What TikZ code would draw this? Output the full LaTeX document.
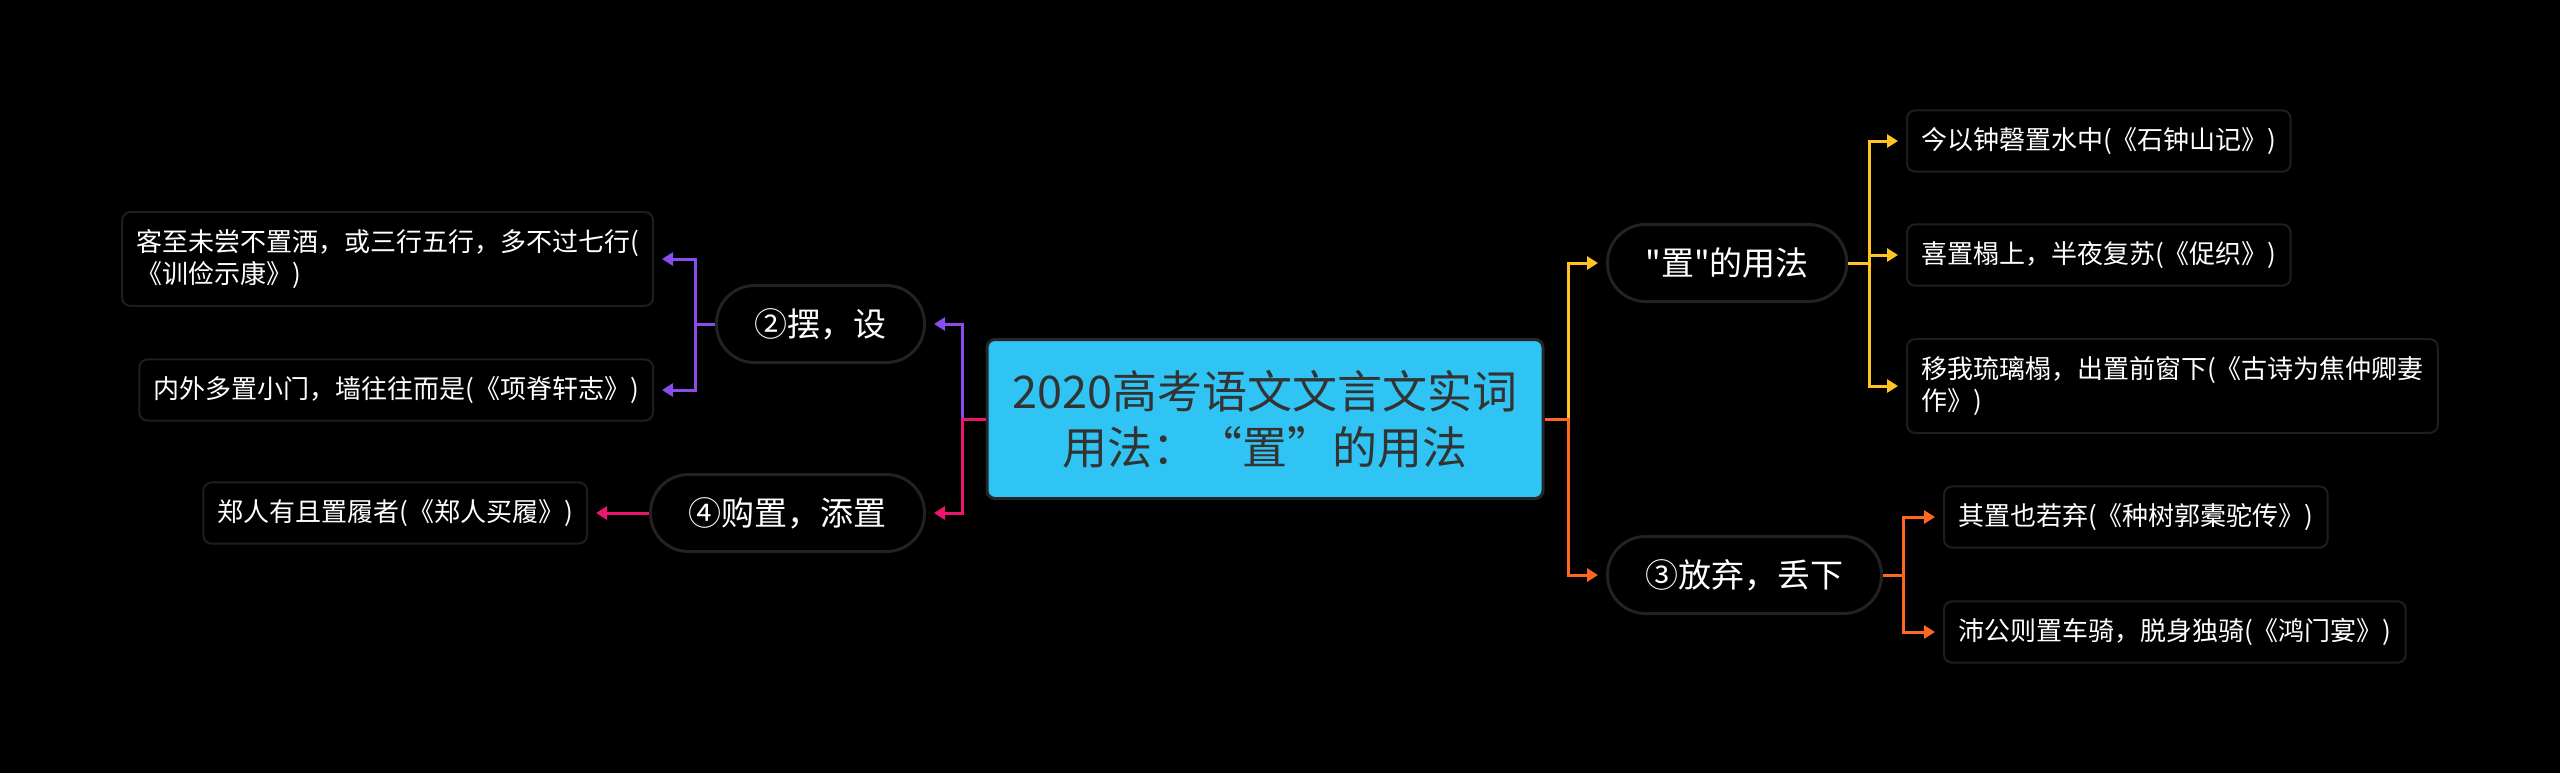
\documentclass[tikz,border=0pt]{standalone}
\usepackage{fontspec}
\setmainfont{Noto Sans CJK SC}
\newfontfamily\plainquote{Noto Sans CJK SC}
\usepackage{tikz}
\usetikzlibrary{arrows.meta, positioning}
\usepackage{xcolor}
\definecolor{rootblue}{RGB}{48, 196, 244}
\definecolor{roottext}{RGB}{51, 51, 51}
\definecolor{yelline}{RGB}{255, 196, 34}
\definecolor{orgline}{RGB}{255, 102, 34}
\definecolor{purline}{RGB}{138, 76, 236}
\definecolor{pinkline}{RGB}{236, 22, 110}
\definecolor{pillgray}{RGB}{34, 34, 34}
\definecolor{leafgray}{RGB}{30, 30, 30}

\begin{document}
\begin{tikzpicture}[x=0.5pt, y=-0.5pt,
    root/.style={rectangle, rounded corners=4pt, minimum width=278pt, minimum height=79.5pt,
                 align=center, font=\fontsize{22.5pt}{28pt}\selectfont, text=roottext,
                 draw=black!85!white, line width=1.5pt, fill=rootblue},
    topic/.style={rectangle, rounded corners=19pt, minimum height=38.5pt, inner xsep=19pt,
                  font=\fontsize{16.5pt}{20pt}\selectfont, text=white,
                  draw=pillgray, line width=1.5pt, fill=black},
    leaf/.style={rectangle, rounded corners=4pt, minimum height=28.5pt, inner xsep=7pt, inner ysep=8.5pt,
                 align=left, font=\fontsize{13pt}{16.3pt}\selectfont, text=white,
                 draw=leafgray, line width=1pt, fill=black},
    link/.style={-{Triangle[length=5.5pt, width=6.5pt]}, line width=1.5pt, shorten >=4pt}
]
\fill[black] (0,0) rectangle (2560,773);
\useasboundingbox (0,0) rectangle (2560,773);

\node[root] (root) at (1265,419) {2020高考语文文言文实词\\用法：“置”的用法};

\node[topic, anchor=west] (yongfa) at (1606,263) {\plainquote "置"的用法};
\node[topic, anchor=west] (fangqi) at (1606,575) {③放弃，丢下};
\node[topic, anchor=east] (baishe) at (926,324) {②摆，设};
\node[topic, anchor=east] (gouzhi) at (926,513) {④购置，添置};

\node[leaf, anchor=west] (yf1) at (1906,141) {今以钟磬置水中(《石钟山记》)};
\node[leaf, anchor=west] (yf2) at (1906,255) {喜置榻上，半夜复苏(《促织》)};
\node[leaf, anchor=west] (yf3) at (1906,386) {移我琉璃榻，出置前窗下(《古诗为焦仲卿妻\\作》)};
\node[leaf, anchor=west] (fq1) at (1943,517) {其置也若弃(《种树郭橐驼传》)};
\node[leaf, anchor=west] (fq2) at (1943,632) {沛公则置车骑，脱身独骑(《鸿门宴》)};
\node[leaf, anchor=east] (bs1) at (654,259) {客至未尝不置酒，或三行五行，多不过七行(\\《训俭示康》)};
\node[leaf, anchor=east] (bs2) at (654,390) {内外多置小门，墙往往而是(《项脊轩志》)};
\node[leaf, anchor=east] (gz1) at (588,513) {郑人有且置履者(《郑人买履》)};

\draw[link, yelline] (root.east) -- ++(24,0) |- (yongfa.west);
\draw[link, orgline] (root.east) -- ++(24,0) |- (fangqi.west);
\draw[link, purline] (root.west) -- ++(-23,0) |- (baishe.east);
\draw[link, pinkline] (root.west) -- ++(-23,0) |- (gouzhi.east);

\draw[link, yelline] (yongfa.east) -- ++(21,0) |- (yf1.west);
\draw[link, yelline] (yongfa.east) -- ++(21,0) |- (yf2.west);
\draw[link, yelline] (yongfa.east) -- ++(21,0) |- (yf3.west);
\draw[link, orgline] (fangqi.east) -- ++(20,0) |- (fq1.west);
\draw[link, orgline] (fangqi.east) -- ++(20,0) |- (fq2.west);
\draw[link, purline] (baishe.west) -- ++(-20,0) |- (bs1.east);
\draw[link, purline] (baishe.west) -- ++(-20,0) |- (bs2.east);
\draw[link, pinkline] (gouzhi.west) -- (gz1.east);

\end{tikzpicture}
\end{document}
